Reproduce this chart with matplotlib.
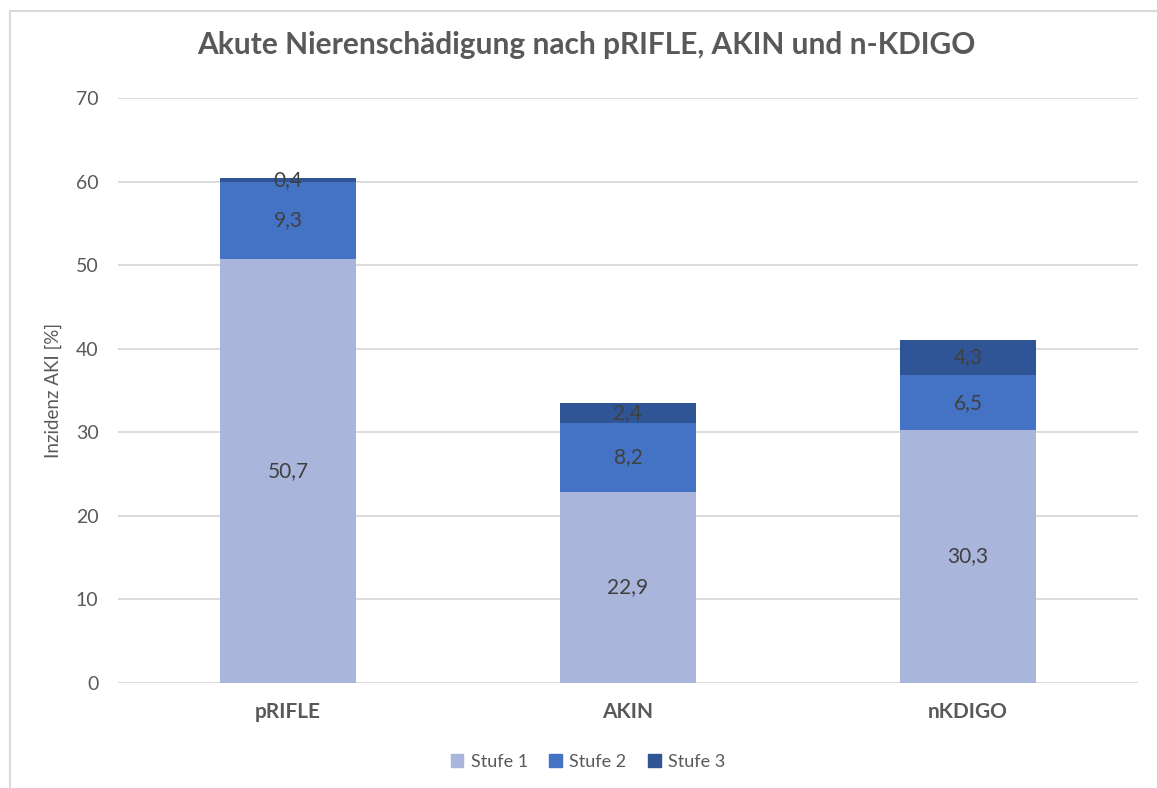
import matplotlib.pyplot as plt
from matplotlib.lines import Line2D
import numpy as np

# data
categories = ['pRIFLE', 'AKIN', 'nKDIGO']
series_names = ['Stufe 1', 'Stufe 2', 'Stufe 3']
stufe1 = [50.7, 22.9, 30.3]
stufe2 = [9.3, 8.2, 6.5]
stufe3 = [0.4, 2.4, 4.3]
colors = ['#A9B5DB', '#4472C4', '#2F5597']

plt.rcParams['font.family'] = ['Lato', 'DejaVu Sans']

fig = plt.figure(figsize=(11.57, 7.88), dpi=100)
ax = fig.add_axes([118/1157, 1 - 683/788, 1020/1157, 585/788])

x = np.arange(len(categories))
bottom = np.zeros(len(categories))
for name, vals, col in zip(series_names, [stufe1, stufe2, stufe3], colors):
    vals = np.array(vals)
    ax.bar(x, vals, width=0.4, bottom=bottom, color=col, label=name, zorder=2)
    for xi, b, v in zip(x, bottom, vals):
        ax.text(xi, b + v / 2, f'{v:.1f}'.replace('.', ','), ha='center', va='center',
                fontsize=15, color='#404040', zorder=3)
    bottom += vals

ax.set_xlim(-0.5, 2.5)
ax.set_ylim(0, 70)
ax.set_yticks(range(0, 71, 10))
ax.yaxis.grid(True, color='#D9D9D9', linewidth=1.3, zorder=0)
ax.set_axisbelow(True)
for s in ax.spines.values():
    s.set_visible(False)
ax.tick_params(axis='both', length=0)
ax.tick_params(axis='y', labelsize=14, labelcolor='#595959', pad=14)
ax.tick_params(axis='x', labelsize=15, labelcolor='#595959', pad=14)
ax.set_xticks(x)
ax.set_xticklabels(categories, fontweight='bold')
ax.set_ylabel('Inzidenz AKI [%]', fontsize=13.5, color='#595959', labelpad=10)

fig.text(0.5 * (197 + 975) / 1157, 1 - 45/788, 'Akute Nierenschädigung nach pRIFLE, AKIN und n-KDIGO',
         ha='center', va='center', fontsize=21.5, color='#595959', fontweight='bold')

handles = [plt.Rectangle((0, 0), 1, 1, color=c) for c in colors]
fig.legend(handles, series_names, loc='center', bbox_to_anchor=(588/1157, 1 - 762/788),
           ncol=3, frameon=False, fontsize=13, labelcolor='#595959',
           handlelength=0.7, handleheight=0.7, handletextpad=0.4, columnspacing=1.2)

# outer chart border (top and left edges visible)
fig.add_artist(Line2D([10/1157, 1], [1 - 11/788, 1 - 11/788], color='#D9D9D9', linewidth=1.5))
fig.add_artist(Line2D([10/1157, 10/1157], [0, 1 - 11/788], color='#D9D9D9', linewidth=1.5))

fig.savefig('out.png', dpi=100, facecolor='white')
